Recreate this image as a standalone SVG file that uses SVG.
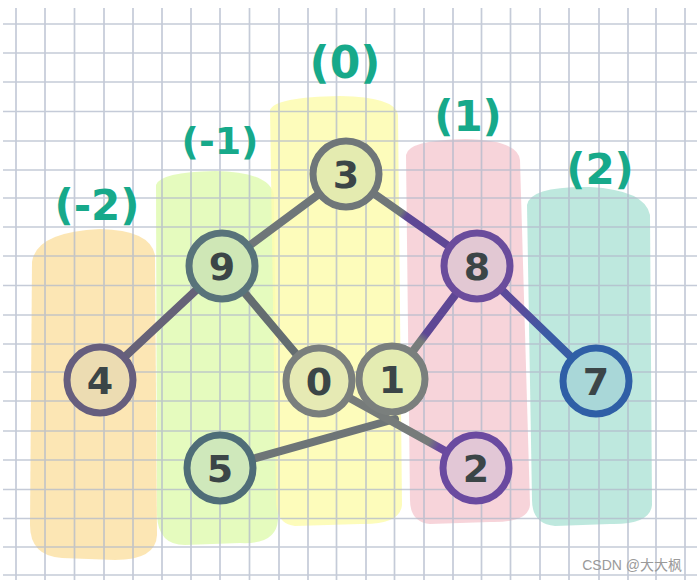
<svg xmlns="http://www.w3.org/2000/svg" width="697" height="580" viewBox="0 0 697 580">
<defs>
<style>
.grid line{stroke:#b2bacb;stroke-width:1.7}
.band{opacity:0.85}
.lbl{font-family:"DejaVu Sans",sans-serif;font-weight:bold;fill:#17a98a;text-anchor:middle}
.num{font-family:"DejaVu Sans",sans-serif;font-weight:bold;font-size:38px;fill:#3b4547;text-anchor:middle}
.edge{fill:none;stroke-width:8;stroke-linecap:round}
.node circle{stroke-width:7}
</style>
<linearGradient id="g38" gradientUnits="userSpaceOnUse" x1="346" y1="174" x2="477" y2="266"><stop offset="0.42" stop-color="#707779"/><stop offset="0.46" stop-color="#5e4795"/></linearGradient>
<linearGradient id="g81" gradientUnits="userSpaceOnUse" x1="477" y1="266" x2="392" y2="379"><stop offset="0.6" stop-color="#5e4795"/><stop offset="0.66" stop-color="#777c7b"/></linearGradient>
<linearGradient id="g87" gradientUnits="userSpaceOnUse" x1="477" y1="266" x2="596" y2="381"><stop offset="0.35" stop-color="#5b4a9a"/><stop offset="0.6" stop-color="#3a5ca5"/></linearGradient>
<linearGradient id="g02" gradientUnits="userSpaceOnUse" x1="319" y1="381" x2="476" y2="468"><stop offset="0.7" stop-color="#767b7a"/><stop offset="0.76" stop-color="#6a4a9e"/></linearGradient>
</defs>
<rect width="697" height="580" fill="#ffffff"/>
<g id="bands">
<path class="band" fill="#fbe2a7" d="M32 262 Q36 232 100 229 Q150 230 155 255 L157 535 Q156 560 115 560 L62 558 Q30 556 30 525 Z"/>
<path class="band" fill="#e1fab3" d="M156 185 Q160 172 215 171 Q270 172 274 195 L278 520 Q276 545 240 543 L185 545 Q158 545 157 515 Z"/>
<path class="band" fill="#fdfbaf" d="M270 110 Q275 97 340 96 Q396 97 398 115 L402 505 Q400 525 360 524 L295 526 Q276 524 276 500 Z"/>
<path class="band" fill="#f6ccd4" d="M406 155 Q408 140 465 139 Q518 140 520 160 L530 505 Q528 523 490 522 L430 524 Q410 522 410 500 Z"/>
<path class="band" fill="#b3e4d8" d="M527 205 Q530 186 590 187 Q645 190 650 215 L652 505 Q650 525 610 524 L555 526 Q532 524 532 500 Z"/>
</g>
<g class="grid" opacity="0.75">
<line x1="16" y1="8" x2="16" y2="580"/><line x1="45" y1="8" x2="45" y2="580"/><line x1="74.5" y1="8" x2="74.5" y2="580"/><line x1="104" y1="8" x2="104" y2="580"/><line x1="133" y1="8" x2="133" y2="580"/><line x1="162" y1="8" x2="162" y2="580"/><line x1="191" y1="8" x2="191" y2="580"/><line x1="220" y1="8" x2="220" y2="580"/><line x1="249.5" y1="8" x2="249.5" y2="580"/><line x1="279" y1="8" x2="279" y2="580"/><line x1="308" y1="8" x2="308" y2="580"/><line x1="336.5" y1="8" x2="336.5" y2="580"/><line x1="366" y1="8" x2="366" y2="580"/><line x1="394.5" y1="8" x2="394.5" y2="580"/><line x1="424" y1="8" x2="424" y2="580"/><line x1="453" y1="8" x2="453" y2="580"/><line x1="481.5" y1="8" x2="481.5" y2="580"/><line x1="510.5" y1="8" x2="510.5" y2="580"/><line x1="540" y1="8" x2="540" y2="580"/><line x1="569" y1="8" x2="569" y2="580"/><line x1="599" y1="8" x2="599" y2="580"/><line x1="628" y1="8" x2="628" y2="580"/><line x1="656" y1="8" x2="656" y2="580"/><line x1="685" y1="8" x2="685" y2="580"/>
<line x1="3" y1="24" x2="697" y2="24"/><line x1="3" y1="53" x2="697" y2="53"/><line x1="3" y1="82" x2="697" y2="82"/><line x1="3" y1="111.5" x2="697" y2="111.5"/><line x1="3" y1="141" x2="697" y2="141"/><line x1="3" y1="170" x2="697" y2="170"/><line x1="3" y1="198" x2="697" y2="198"/><line x1="3" y1="227" x2="697" y2="227"/><line x1="3" y1="256" x2="697" y2="256"/><line x1="3" y1="285.5" x2="697" y2="285.5"/><line x1="3" y1="315" x2="697" y2="315"/><line x1="3" y1="344" x2="697" y2="344"/><line x1="3" y1="372" x2="697" y2="372"/><line x1="3" y1="401" x2="697" y2="401"/><line x1="3" y1="431" x2="697" y2="431"/><line x1="3" y1="460" x2="697" y2="460"/><line x1="3" y1="489.5" x2="697" y2="489.5"/><line x1="3" y1="518.5" x2="697" y2="518.5"/><line x1="3" y1="547" x2="697" y2="547"/><line x1="3" y1="575" x2="697" y2="575"/>
</g>
<g id="labels">
<text class="lbl" x="345" y="78" font-size="44">(0)</text>
<text class="lbl" x="220" y="154" font-size="38">(-1)</text>
<text class="lbl" x="97" y="220" font-size="42">(-2)</text>
<text class="lbl" x="468" y="131" font-size="42">(1)</text>
<text class="lbl" x="600" y="184" font-size="42">(2)</text>
</g>
<g id="connectors">
<line class="edge" stroke="#6f7679" x1="346" y1="174" x2="222" y2="266"/>
<line class="edge" stroke="url(#g38)" x1="346" y1="174" x2="477" y2="266"/>
<line class="edge" stroke="#666278" x1="222" y1="266" x2="100" y2="380"/>
<line class="edge" stroke="#646d70" x1="222" y1="266" x2="319" y2="381"/>
<line class="edge" stroke="url(#g81)" x1="477" y1="266" x2="392" y2="379"/>
<line class="edge" stroke="url(#g87)" x1="477" y1="266" x2="596" y2="381"/>
<line class="edge" stroke="#6e7577" x1="220" y1="468" x2="395" y2="419"/>
<line class="edge" stroke="url(#g02)" x1="319" y1="381" x2="476" y2="468"/>
</g>
<g id="node-3" class="node"><circle cx="346" cy="174" r="33" fill="#e4ebb0" stroke="#6f7679"/><text class="num" x="346" y="188">3</text></g>
<g id="node-9" class="node"><circle cx="222" cy="266" r="33" fill="#cfe7b6" stroke="#58737a"/><text class="num" x="222" y="280">9</text></g>
<g id="node-8" class="node"><circle cx="477" cy="266" r="33" fill="#e2c8d3" stroke="#6a4c9c"/><text class="num" x="477" y="280">8</text></g>
<g id="node-4" class="node"><circle cx="100" cy="380" r="33" fill="#ecdcb2" stroke="#665e7e"/><text class="num" x="100" y="394">4</text></g>
<g id="node-0" class="node"><circle cx="319" cy="381" r="33" fill="#e6eab4" stroke="#7a7f7d"/><text class="num" x="319" y="395">0</text></g>
<g id="node-1" class="node"><circle cx="392" cy="379" r="33" fill="#e4ecb2" stroke="#7a7f7d"/><text class="num" x="392" y="393">1</text></g>
<g id="node-5" class="node"><circle cx="220" cy="468" r="33" fill="#cfe8bb" stroke="#4f6d78"/><text class="num" x="220" y="482">5</text></g>
<g id="node-2" class="node"><circle cx="476" cy="468" r="33" fill="#e2c7d6" stroke="#6a4aa0"/><text class="num" x="476" y="482">2</text></g>
<g id="node-7" class="node"><circle cx="596" cy="381" r="33" fill="#a9d7d8" stroke="#2f5fa6"/><text class="num" x="596" y="395">7</text></g>
<text x="682" y="570" font-family="'Liberation Sans','Noto Sans CJK SC',sans-serif" font-size="14" fill="#9a9a9a" text-anchor="end">CSDN @大大枫</text>
</svg>
